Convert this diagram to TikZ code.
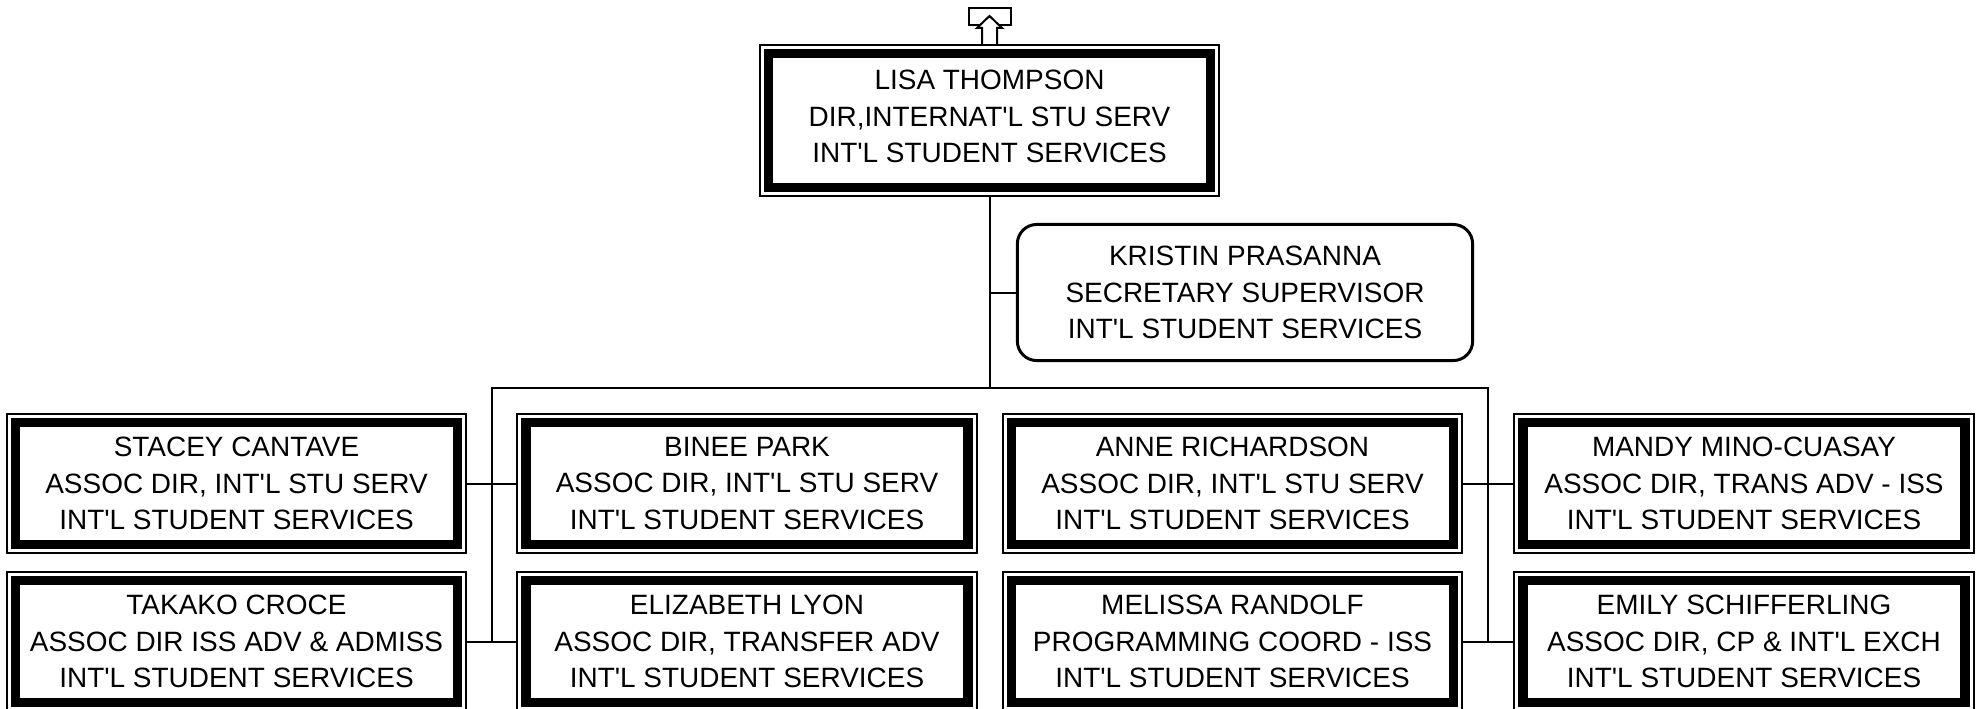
\documentclass[tikz,border=0pt]{standalone}
\usepackage{fontspec}
\newfontfamily\orgfont{Liberation Sans}[Ligatures=TeXOff]
\usetikzlibrary{calc,fit}

\begin{document}
\begin{tikzpicture}[
    x=0.01cm, y=0.01cm,
    every node/.style={font=\orgfont\fontsize{7.95}{10.4}\selectfont, align=center, inner sep=0pt},
    staffbox/.style={draw, line width=2.7pt, minimum width=4.415cm, minimum height=1.215cm},
    framebox/.style={draw, line width=0.57pt, inner sep=1.14pt},
    secbox/.style={draw, line width=0.85pt, rounded corners=5.5pt, minimum width=4.55cm, minimum height=1.36cm},
    wire/.style={line width=0.57pt}
]
\useasboundingbox (0,0) rectangle (1981,-708);

\node[staffbox, minimum height=1.335cm] (top) at (989.5,-120.5) {LISA THOMPSON\\DIR,INTERNAT'L STU SERV\\INT'L STUDENT SERVICES\rule[-2.2pt]{0pt}{0pt}};
\node[secbox] (kristin) at (1245,-292.5) {KRISTIN PRASANNA\\SECRETARY SUPERVISOR\\INT'L STUDENT SERVICES};

% first row
\node[staffbox] (stacey) at (236.5,-483.5) {STACEY CANTAVE\\ASSOC DIR, INT'L STU SERV\\INT'L STUDENT SERVICES};
\node[staffbox] (binee) at (747,-483.5) {BINEE PARK\\ASSOC DIR, INT'L STU SERV\\INT'L STUDENT SERVICES};
\node[staffbox] (anne) at (1232.5,-483.5) {ANNE RICHARDSON\\ASSOC DIR, INT'L STU SERV\\INT'L STUDENT SERVICES};
\node[staffbox] (mandy) at (1744,-483.5) {MANDY MINO-CUASAY\\ASSOC DIR, TRANS ADV - ISS\\INT'L STUDENT SERVICES};
% second row
\node[staffbox] (takako) at (236.5,-641.5) {TAKAKO CROCE\\ASSOC DIR ISS ADV \& ADMISS\\INT'L STUDENT SERVICES};
\node[staffbox] (elizabeth) at (747,-641.5) {ELIZABETH LYON\\ASSOC DIR, TRANSFER ADV\\INT'L STUDENT SERVICES};
\node[staffbox] (melissa) at (1232.5,-641.5) {MELISSA RANDOLF\\PROGRAMMING COORD - ISS\\INT'L STUDENT SERVICES};
\node[staffbox] (emily) at (1744,-641.5) {EMILY SCHIFFERLING\\ASSOC DIR, CP \& INT'L EXCH\\INT'L STUDENT SERVICES};

\foreach \n in {top,stacey,binee,anne,mandy,takako,elizabeth,melissa,emily}
    \node[framebox, fit=(\n)] (\n-f) {};

% reports-to arrow
\draw[line width=0.57pt] ($(top-f.north)+(-21,19)$) rectangle ($(top-f.north)+(21,36)$);
\draw[line width=0.57pt, fill=white] (top-f.north) ++(-7.5,0) -- ++(0,16) -- ++(-5,0) -- ++(12.5,12) -- ++(12.5,-12) -- ++(-5,0) -- ++(0,-16);

\coordinate (bus) at ($(top-f.south)+(0,-191)$);
\coordinate (jl) at ($(takako-f.east)!.5!(elizabeth-f.west)$);
\coordinate (jr) at ($(melissa-f.east)!.5!(emily-f.west)$);
\draw[wire] (top-f.south) -- (bus);
\draw[wire] (kristin.west) -- (kristin.west -| bus);
\draw[wire] (jl) |- (bus) -| (jr);
\draw[wire] (stacey-f.east) -- (binee-f.west);
\draw[wire] (takako-f.east) -- (elizabeth-f.west);
\draw[wire] (anne-f.east) -- (mandy-f.west);
\draw[wire] (melissa-f.east) -- (emily-f.west);
\end{tikzpicture}
\end{document}
